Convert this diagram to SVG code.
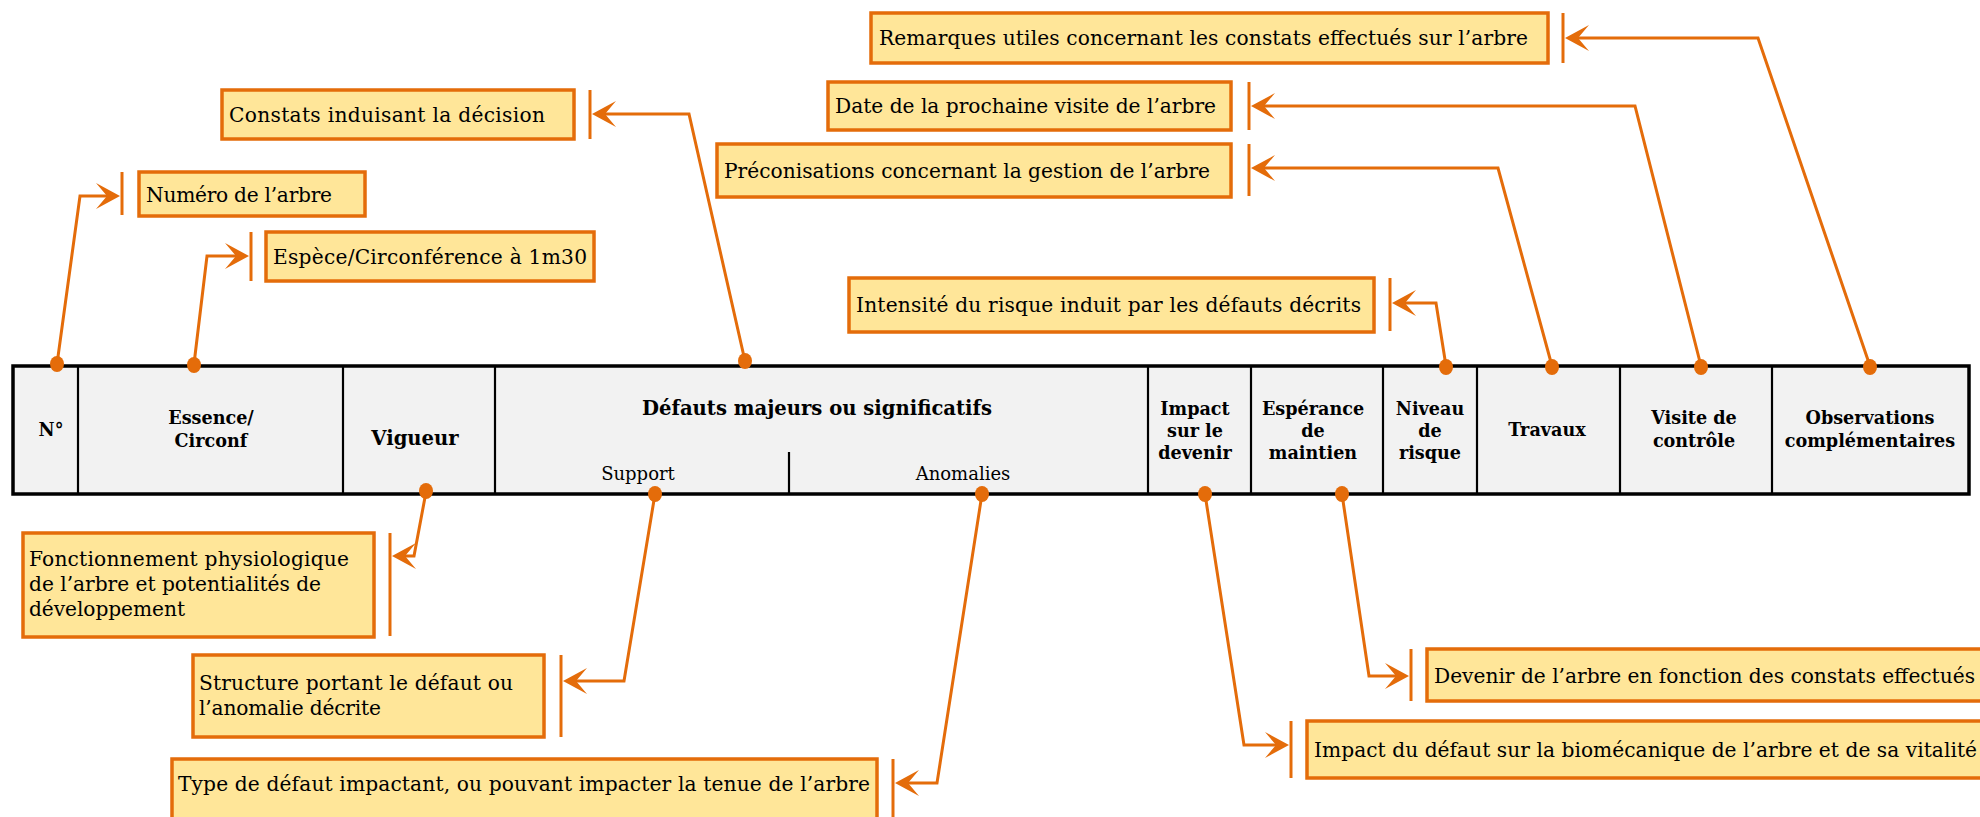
<svg xmlns="http://www.w3.org/2000/svg" width="1980" height="817" viewBox="0 0 1980 817">
<defs>
<marker id="ah" markerUnits="userSpaceOnUse" viewBox="-26 -15 28 30" markerWidth="28" markerHeight="30" refX="-10" refY="0" orient="auto">
<path d="M0,0 L-24,-13 L-13,0 L-24,13 Z" fill="#E46C0A"/>
</marker>
<style>
.box{fill:#FFE699;stroke:#E46C0A;stroke-width:3.5}
.bar{stroke:#E46C0A;stroke-width:3;fill:none}
.con{stroke:#E46C0A;stroke-width:3;fill:none;marker-end:url(#ah)}
.dot{fill:#E46C0A}
.t{font-family:"DejaVu Serif",serif;font-size:20.2px;fill:#000}
.h{font-family:"DejaVu Serif",serif;font-weight:bold;font-size:17.6px;fill:#000;text-anchor:middle}
.hb{font-family:"DejaVu Serif",serif;font-weight:bold;font-size:19.6px;fill:#000;text-anchor:middle}
.hs{font-family:"DejaVu Serif",serif;font-size:18px;fill:#000;text-anchor:middle}
.in{stroke:#000;stroke-width:2.2}
</style>
</defs>
<rect width="1980" height="817" fill="#fff"/>

<g id="table">
<rect x="13" y="366" width="1956" height="128" fill="#F2F2F2" stroke="#000" stroke-width="3.5"/>
<line class="in" x1="78" y1="366" x2="78" y2="494"/>
<line class="in" x1="343" y1="366" x2="343" y2="494"/>
<line class="in" x1="495" y1="366" x2="495" y2="494"/>
<line class="in" x1="1148" y1="366" x2="1148" y2="494"/>
<line class="in" x1="1251" y1="366" x2="1251" y2="494"/>
<line class="in" x1="1383" y1="366" x2="1383" y2="494"/>
<line class="in" x1="1477" y1="366" x2="1477" y2="494"/>
<line class="in" x1="1620" y1="366" x2="1620" y2="494"/>
<line class="in" x1="1772" y1="366" x2="1772" y2="494"/>
<line class="in" x1="789" y1="452" x2="789" y2="494"/>
<text class="h" x="51" y="436">N°</text>
<text class="h" x="211" y="424">Essence/</text>
<text class="h" x="211" y="447">Circonf</text>
<text class="hb" x="415" y="445">Vigueur</text>
<text class="hb" x="817" y="415">Défauts majeurs ou significatifs</text>
<text class="hs" x="638" y="480">Support</text>
<text class="hs" x="963" y="480">Anomalies</text>
<text class="h" x="1195" y="415">Impact</text>
<text class="h" x="1195" y="437">sur le</text>
<text class="h" x="1195" y="459">devenir</text>
<text class="h" x="1313" y="415">Espérance</text>
<text class="h" x="1313" y="437">de</text>
<text class="h" x="1313" y="459">maintien</text>
<text class="h" x="1430" y="415">Niveau</text>
<text class="h" x="1430" y="437">de</text>
<text class="h" x="1430" y="459">risque</text>
<text class="h" x="1547" y="436">Travaux</text>
<text class="h" x="1694" y="424">Visite de</text>
<text class="h" x="1694" y="447">contrôle</text>
<text class="h" x="1870" y="424">Observations</text>
<text class="h" x="1870" y="447">complémentaires</text>
</g>

<g id="n-remarques">
<rect class="box" x="871" y="13" width="677" height="50"/>
<text class="t" x="879" y="45" textLength="649">Remarques utiles concernant les constats effectués sur l’arbre</text>
</g>
<g id="n-date">
<rect class="box" x="828" y="82" width="403" height="48"/>
<text class="t" x="835" y="113" textLength="381">Date de la prochaine visite de l’arbre</text>
</g>
<g id="n-preco">
<rect class="box" x="717" y="144" width="514" height="53"/>
<text class="t" x="724" y="178" textLength="486">Préconisations concernant la gestion de l’arbre</text>
</g>
<g id="n-intensite">
<rect class="box" x="849" y="278" width="525" height="54"/>
<text class="t" x="856" y="312" textLength="505">Intensité du risque induit par les défauts décrits</text>
</g>
<g id="n-constats">
<rect class="box" x="222" y="90" width="352" height="49"/>
<text class="t" x="229" y="122" textLength="316">Constats induisant la décision</text>
</g>
<g id="n-numero">
<rect class="box" x="139" y="172" width="226" height="44"/>
<text class="t" x="146" y="202" textLength="186">Numéro de l’arbre</text>
</g>
<g id="n-espece">
<rect class="box" x="266" y="232" width="328" height="49"/>
<text class="t" x="273" y="264" textLength="314">Espèce/Circonférence à 1m30</text>
</g>
<g id="n-fonct">
<rect class="box" x="23" y="533" width="351" height="104"/>
<text class="t" x="29" y="566" textLength="320">Fonctionnement physiologique</text>
<text class="t" x="29" y="591" textLength="292">de l’arbre et potentialités de</text>
<text class="t" x="29" y="616" textLength="156">développement</text>
</g>
<g id="n-structure">
<rect class="box" x="193" y="655" width="351" height="82"/>
<text class="t" x="199" y="690" textLength="314">Structure portant le défaut ou</text>
<text class="t" x="199" y="715" textLength="182">l’anomalie décrite</text>
</g>
<g id="n-type">
<rect class="box" x="172" y="759" width="705" height="80"/>
<text class="t" x="178" y="791" textLength="692">Type de défaut impactant, ou pouvant impacter la tenue de l’arbre</text>
</g>
<g id="n-devenir">
<rect class="box" x="1427" y="649" width="600" height="52"/>
<text class="t" x="1434" y="683" textLength="541">Devenir de l’arbre en fonction des constats effectués</text>
</g>
<g id="n-impact">
<rect class="box" x="1307" y="721" width="700" height="57"/>
<text class="t" x="1314" y="757" textLength="663">Impact du défaut sur la biomécanique de l’arbre et de sa vitalité</text>
</g>

<g id="connectors">
<line class="bar" x1="1563" y1="13" x2="1563" y2="63"/>
<line class="bar" x1="1249" y1="82" x2="1249" y2="130"/>
<line class="bar" x1="1249" y1="144" x2="1249" y2="196"/>
<line class="bar" x1="1390" y1="278" x2="1390" y2="331"/>
<line class="bar" x1="590" y1="90" x2="590" y2="139"/>
<line class="bar" x1="122" y1="172" x2="122" y2="215"/>
<line class="bar" x1="251" y1="232" x2="251" y2="281"/>
<line class="bar" x1="390" y1="533" x2="390" y2="636"/>
<line class="bar" x1="561" y1="655" x2="561" y2="737"/>
<line class="bar" x1="893" y1="759" x2="893" y2="817"/>
<line class="bar" x1="1411" y1="649" x2="1411" y2="701"/>
<line class="bar" x1="1291" y1="721" x2="1291" y2="778"/>

<path class="con" d="M1870,366 L1758,38 L1575,38"/>
<path class="con" d="M1701,366 L1635,106 L1261,106"/>
<path class="con" d="M1552,366 L1498,168 L1261,168"/>
<path class="con" d="M1446,366 L1436,303 L1402,303"/>
<path class="con" d="M745,361 L689,114 L602,114"/>
<path class="con" d="M57,364 L80,196 L110,196"/>
<path class="con" d="M194,364 L207,256 L239,256"/>
<path class="con" d="M426,492 L414,556 L402,556"/>
<path class="con" d="M655,494 L624,681 L573,681"/>
<path class="con" d="M982,494 L937,783 L905,783"/>
<path class="con" d="M1342,494 L1369,676 L1399,676"/>
<path class="con" d="M1205,494 L1244,745 L1279,745"/>

<ellipse class="dot" cx="1870" cy="367" rx="7" ry="8"/>
<ellipse class="dot" cx="1701" cy="367" rx="7" ry="8"/>
<ellipse class="dot" cx="1552" cy="367" rx="7" ry="8"/>
<ellipse class="dot" cx="1446" cy="367" rx="7" ry="8"/>
<ellipse class="dot" cx="745" cy="361" rx="7" ry="8"/>
<ellipse class="dot" cx="57" cy="364" rx="7" ry="8"/>
<ellipse class="dot" cx="194" cy="365" rx="7" ry="8"/>
<ellipse class="dot" cx="426" cy="491" rx="7" ry="8"/>
<ellipse class="dot" cx="655" cy="494" rx="7" ry="8"/>
<ellipse class="dot" cx="982" cy="494" rx="7" ry="8"/>
<ellipse class="dot" cx="1342" cy="494" rx="7" ry="8"/>
<ellipse class="dot" cx="1205" cy="494" rx="7" ry="8"/>
</g>
</svg>
